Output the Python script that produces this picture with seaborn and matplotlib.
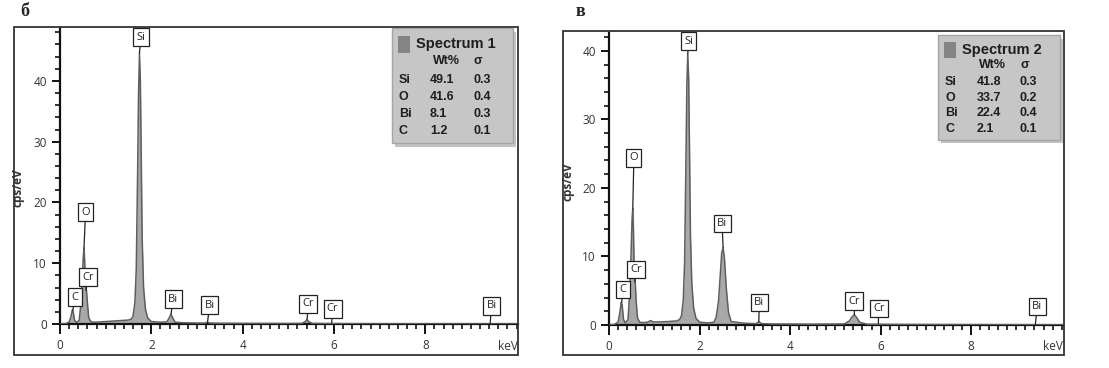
import matplotlib
matplotlib.use("Agg")
import matplotlib.pyplot as plt
import numpy as np
import seaborn as sns
from matplotlib.patches import Rectangle
from matplotlib.ticker import MultipleLocator

# --- spectrum б (Spectrum 1): traced points, keV vs cps/eV
E1 = [0.00, 0.12, 0.20, 0.24, 0.27, 0.29, 0.32, 0.36, 0.42, 0.46, 0.49, 0.51, 0.525, 0.54, 0.56,
      0.58, 0.60, 0.63, 0.68, 0.75, 0.90, 1.10, 1.30, 1.50, 1.56, 1.60, 1.64, 1.67, 1.70, 1.72,
      1.74, 1.76, 1.78, 1.80, 1.83, 1.87, 1.92, 2.00, 2.20, 2.34, 2.39, 2.43, 2.47, 2.52, 2.70,
      3.00, 3.18, 3.23, 3.28, 3.50, 4.00, 5.00, 5.30, 5.37, 5.41, 5.45, 5.52, 5.80, 6.50, 7.50,
      8.50, 9.50, 10.03]
CPS1 = [0.00, 0.05, 0.3, 1.2, 2.3, 2.0, 0.6, 0.25, 0.6, 3.5, 8.0, 11.0, 12.5, 10.5, 6.0,
        5.5, 3.5, 1.0, 0.35, 0.3, 0.35, 0.45, 0.55, 0.65, 0.8, 1.3, 3.5, 9.0, 25.0, 38.0,
        44.5, 40.0, 27.0, 14.0, 6.0, 2.5, 1.0, 0.4, 0.3, 0.35, 1.0, 1.6, 1.0, 0.3, 0.2,
        0.15, 0.15, 0.3, 0.15, 0.12, 0.1, 0.08, 0.1, 0.4, 0.7, 0.4, 0.1, 0.07, 0.05, 0.04,
        0.03, 0.02, 0.02]

# --- spectrum в (Spectrum 2)
E2 = [0.00, 0.12, 0.20, 0.24, 0.27, 0.29, 0.32, 0.36, 0.42, 0.46, 0.49, 0.51, 0.525, 0.54, 0.56,
      0.58, 0.60, 0.63, 0.68, 0.75, 0.85, 0.92, 0.98, 1.10, 1.30, 1.50, 1.56, 1.60, 1.64, 1.67,
      1.70, 1.72, 1.74, 1.76, 1.78, 1.80, 1.83, 1.87, 1.92, 2.00, 2.20, 2.32, 2.37, 2.42, 2.46,
      2.49, 2.52, 2.55, 2.59, 2.64, 2.70, 3.00, 3.25, 3.31, 3.37, 3.60, 4.50, 5.20, 5.31, 5.37,
      5.42, 5.47, 5.54, 5.70, 6.50, 7.50, 8.50, 9.50, 10.03]
CPS2 = [0.0, 0.1, 0.4, 1.8, 3.3, 3.0, 0.8, 0.3, 0.8, 5.0, 11.0, 15.5, 17.0, 14.0, 7.0,
        6.3, 3.5, 1.0, 0.4, 0.35, 0.4, 0.65, 0.45, 0.45, 0.5, 0.6, 0.8, 1.3, 3.5, 9.0,
        24.0, 35.0, 39.5, 36.0, 25.0, 13.0, 6.0, 2.5, 1.0, 0.4, 0.3, 0.4, 1.2, 3.5, 7.5,
        10.5, 11.3, 9.8, 5.5, 1.8, 0.5, 0.25, 0.2, 0.5, 0.2, 0.15, 0.12, 0.15, 0.6, 1.2,
        1.5, 1.1, 0.4, 0.12, 0.08, 0.06, 0.05, 0.04, 0.03]

# --- peak labels: text, box position (keV, cps), pointer tip (keV, cps)
LBL1_TEXT = ["C", "O", "Cr", "Si", "Bi", "Bi", "Cr", "Cr", "Bi"]
LBL1_BOX_E = [0.33, 0.56, 0.61, 1.77, 2.48, 3.28, 5.44, 5.97, 9.45]
LBL1_BOX_Y = [4.4, 18.4, 7.7, 47.2, 4.1, 3.1, 3.3, 2.5, 3.0]
LBL1_TIP_E = [0.28, 0.525, 0.57, 1.74, 2.43, 3.23, 5.41, 5.95, 9.42]
LBL1_TIP_Y = [2.2, 12.5, 5.5, 44.5, 1.6, 0.3, 0.7, 0.2, 0.1]

LBL2_TEXT = ["C", "O", "Cr", "Si", "Bi", "Bi", "Cr", "Cr", "Bi"]
LBL2_BOX_E = [0.31, 0.55, 0.60, 1.76, 2.50, 3.32, 5.42, 5.96, 9.46]
LBL2_BOX_Y = [5.2, 24.4, 8.1, 41.4, 14.8, 3.3, 3.5, 2.4, 2.7]
LBL2_TIP_E = [0.28, 0.525, 0.57, 1.74, 2.52, 3.31, 5.42, 5.95, 9.42]
LBL2_TIP_Y = [3.3, 17.0, 6.3, 39.5, 11.3, 0.5, 1.5, 0.2, 0.1]

# --- composition tables
ELEMENTS = ["Si", "O", "Bi", "C"]
WT1 = ["49.1", "41.6", "8.1", "1.2"]
SIG1 = ["0.3", "0.4", "0.3", "0.1"]
WT2 = ["41.8", "33.7", "22.4", "2.1"]
SIG2 = ["0.3", "0.2", "0.4", "0.1"]

X_TICKS = [0, 2, 4, 6, 8]

W, H = 1109, 368
FILL = "#a8a8a8"
EDGE = "#5e5e5e"

sns.set_style("ticks")
plt.rcParams["font.family"] = ["Open Sans", "DejaVu Sans"]

fig = plt.figure(figsize=(W / 100, H / 100), dpi=100)


def px_ax(x0, x1, top, bottom):
    return fig.add_axes([x0 / W, 1 - bottom / H, (x1 - x0) / W, (bottom - top) / H])


def frame(x0, x1, top, bottom):
    fig.add_artist(Rectangle((x0 / W, 1 - bottom / H), (x1 - x0) / W, (bottom - top) / H,
                             transform=fig.transFigure, fill=False, ec="#333333", lw=1.3))


def draw_legend(ax, box, title, wt, sig):
    x0, y0, x1, y1 = box
    w, h = x1 - x0, y1 - y0
    tr = ax.transAxes
    ax.add_patch(Rectangle((x0 + 0.006, y0 - 0.012), w, h, transform=tr, fc="#9a9a9a",
                           ec="none", alpha=0.6, zorder=5, clip_on=False))
    ax.add_patch(Rectangle((x0, y0), w, h, transform=tr, fc="#c6c6c6", ec="#a5a5a5",
                           lw=1, zorder=6, clip_on=False))
    ax.add_patch(Rectangle((x0 + 0.05 * w, y1 - 0.216 * h), 0.098 * w, 0.146 * h, transform=tr,
                           fc="#858585", ec="none", zorder=7))
    kw = dict(transform=tr, zorder=8, color="#1e1e1e", family=["Liberation Sans", "DejaVu Sans"],
              weight="bold", va="center")
    ax.text(x0 + 0.197 * w, y1 - 0.139 * h, title, fontsize=10.5, **kw)
    ax.text(x0 + 0.447 * w, y1 - 0.285 * h, "Wt%", fontsize=9, ha="center", **kw)
    ax.text(x0 + 0.712 * w, y1 - 0.285 * h, "σ", fontsize=9, ha="center", **kw)
    for i, el in enumerate(ELEMENTS):
        yy = y1 - (0.452 + 0.147 * i) * h
        ax.text(x0 + 0.057 * w, yy, el, fontsize=9, **kw)
        ax.text(x0 + 0.314 * w, yy, wt[i], fontsize=9, **kw)
        ax.text(x0 + 0.670 * w, yy, sig[i], fontsize=9, **kw)


def draw_panel(ax, e, cps, ymax, labels, legend_box, title, wt, sig, ylab_xy):
    sns.lineplot(x=e, y=cps, ax=ax, color=EDGE, lw=1.1, sort=False, estimator=None, zorder=3)
    ax.fill_between(e, 0, cps, color=FILL, lw=0, zorder=2)
    ax.set_xlim(0, 10.03)
    ax.set_ylim(0, ymax)
    for t, be, by, te, ty in zip(*labels):
        ax.annotate(t, xy=(te, ty), xytext=(be, by), ha="center", va="center", fontsize=8,
                    color="#222222", zorder=4, annotation_clip=False,
                    bbox=dict(boxstyle="square,pad=0.3", fc="white", ec="#222222", lw=0.9),
                    arrowprops=dict(arrowstyle="-", color="#222222", lw=0.9,
                                    shrinkA=0, shrinkB=0))
    sns.despine(ax=ax)
    for s in ("left", "bottom"):
        ax.spines[s].set_linewidth(1.6)
        ax.spines[s].set_color("#111111")
    ax.set_xticks(X_TICKS)
    ax.xaxis.set_minor_locator(MultipleLocator(0.2))
    ax.yaxis.set_major_locator(MultipleLocator(10))
    ax.yaxis.set_minor_locator(MultipleLocator(2))
    ax.tick_params(which="major", length=6, width=1.4, colors="#111111", labelsize=8.5,
                   labelcolor="#333333")
    ax.tick_params(which="minor", length=3.5, width=1.2, colors="#111111")
    ax.tick_params(axis="x", which="both", pad=4)
    ax.tick_params(axis="x", which="major", length=7)
    ax.set_xlabel("")
    ax.set_ylabel("cps/eV", fontsize=8.5, color="#333333", weight="bold")
    ax.yaxis.set_label_coords(*ylab_xy)
    ax.text(1.0, -0.075, "keV", transform=ax.transAxes, ha="right", va="center",
            fontsize=8.5, color="#333333")
    draw_legend(ax, legend_box, title, wt, sig)


frame(14, 518, 27, 355)
frame(563, 1064, 31, 355)

ax1 = px_ax(60, 518, 28, 324)
draw_panel(ax1, E1, CPS1, 48.7,
           (LBL1_TEXT, LBL1_BOX_E, LBL1_BOX_Y, LBL1_TIP_E, LBL1_TIP_Y),
           (0.725, 0.611, 0.989, 1.0), "Spectrum 1", WT1, SIG1, (-0.078, 0.46))

ax2 = px_ax(609, 1063, 33, 325)
draw_panel(ax2, E2, CPS2, 42.6,
           (LBL2_TEXT, LBL2_BOX_E, LBL2_BOX_Y, LBL2_TIP_E, LBL2_TIP_Y),
           (0.725, 0.634, 0.993, 0.993), "Spectrum 2", WT2, SIG2, (-0.075, 0.49))

serif = ["Liberation Serif", "DejaVu Serif"]
fig.text(25 / W, 1 - 11 / H, "б", fontsize=13, weight="bold", family=serif, ha="center", va="center")
fig.text(580 / W, 1 - 12 / H, "в", fontsize=13, weight="bold", family=serif, ha="center", va="center")

fig.savefig("out.png", dpi=100)
